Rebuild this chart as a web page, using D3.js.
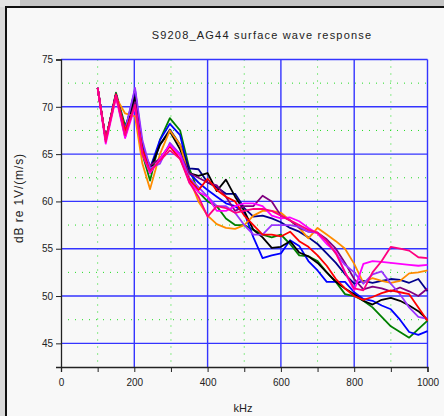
<!DOCTYPE html>
<html>
<head>
<meta charset="utf-8">
<title>surface wave response</title>
<script src="https://d3js.org/d3.v7.min.js"></script>
<style>
  body { margin: 0; background: #c4c4c4; }
  svg { display: block; }
</style>
</head>
<body>
<script>
// frequency points (kHz)
var freqs = [100,122,150,175,202,222,243,270,297,325,350,375,400,425,450,475,500,525,550,575,600,625,650,675,700,725,750,775,800,825,850,875,900,925,950,975,1000];

var xTicks = [0, 200, 400, 600, 800, 1000];
var xMinor = [100, 300, 500, 700, 900];
var yTicks = [45, 50, 55, 60, 65, 70, 75];
var yMinor = [47.5, 52.5, 57.5, 62.5, 67.5, 72.5];

// one array per sensor trace (dB re 1V/(m/s))
var green   = [72,66.5,71.5,68,70.5,65,62.2,66.5,68.8,67.5,63.5,61,60,59.5,58.2,57.5,57.5,57,56.5,56.2,56.5,55.5,54.3,54.2,53.7,52.5,51.5,50.2,50,49.5,48.8,47.8,46.8,46.2,45.6,46.5,47.4];
var blue    = [72,66.5,71.3,67.5,71.8,66,63.5,66.5,68.2,67,63,62,61.2,60.5,59.8,59.5,58.8,56.2,54,54.3,54.5,55.9,55.3,53.7,52.7,51.5,51.5,51.5,50.4,49.7,49.5,49,48.6,47.5,46.2,45.9,46.3];
var navy    = [72,66.5,71.3,67.5,71.5,65.5,63.5,66,67.6,66,63.5,63.4,62,61.5,60.8,60.8,59.3,58.4,58.5,58.2,57.8,57.2,56.8,56.2,55.5,54.5,53.5,52.3,51.3,51.6,51.4,51.6,51.8,51.7,51.4,51.8,50.5];
var black   = [72,66.5,71.3,67.5,71,65.5,63.2,66,67.4,65.5,63,62.7,63,61.1,62.3,60.5,59,57,56.2,55.1,55.2,55.8,54.6,54.2,53.5,52.5,51.5,50.8,50.2,49.5,49.1,49.6,49.8,49.5,49,48.4,47.5];
var orange  = [72,66.5,71,69.3,69,64,61.3,65,67.5,66,62.5,60,58.5,57.6,57.2,57.1,57.5,58.5,59,59,58.8,58,57.2,56.1,57.2,56.5,55.8,55,53.4,51.4,51.9,51.6,51.4,51.6,52.4,52.5,52.7];
var purple  = [72,66.5,71.3,66.8,70.5,65.5,63.8,64.5,66,65,63,62.5,62,61.7,60.5,59,59.5,59.5,60.6,60,58.5,58,57.2,56.8,56.7,56,55,53.5,51.8,50.7,51,50.8,50.5,50.9,50.5,50,50.8];
var violet  = [72,66.5,71.3,67.5,72,66.5,63.5,64,66.2,65,62.5,61.5,60.5,59.5,59.5,58.8,57.5,56.5,56.5,57.5,57.5,57.5,57.3,56.8,56.7,55.8,54.5,53.3,52.5,51.3,52.3,52.6,51.3,50.2,48.8,47.8,47.6];
var magenta = [72,66.1,71,66.7,70,65,63,64.5,66,64.8,62,61,60.5,59,59,59.5,59.8,59.8,59.5,58.5,58.2,58.3,57.9,57.2,56.6,55.5,54.7,52.5,50.6,53.4,53.7,53.6,53.5,53.4,53.3,53.2,53.3];
var pink    = [72,66.3,71.2,67,70.2,65,63.2,64.3,65.4,64.5,62,60.5,58.4,59.5,59.3,58.8,59,59.2,59.2,59,58.5,58,57.5,57,56.7,55.8,54.5,52.5,50.8,50.6,52.5,53.7,55.2,55,54.8,54.1,54];
var red     = [72,66.5,71.3,67.5,70,65.5,63,64.5,65.8,64.5,62.3,61.2,62.4,61.2,60.5,60,58.5,57.5,56.5,56.5,56.3,56.8,55.8,55.2,54.3,53.2,51.8,50.8,50,49.6,49.9,50.3,50.6,50.4,50.2,48.8,47.4];

var series = [
  {c: "#008000", v: green},
  {c: "#0000ff", v: blue},
  {c: "#00008b", v: navy},
  {c: "#000000", v: black},
  {c: "#ff8c00", v: orange},
  {c: "#800080", v: purple},
  {c: "#9933ff", v: violet},
  {c: "#ff0000", v: red},
  {c: "#ff00ff", v: magenta},
  {c: "#ff0080", v: pink}
];

var W = 444, H = 416;
var svg = d3.select("body").append("svg").attr("width", W).attr("height", H)
  .style("font-family", "Arial, 'Liberation Sans', sans-serif");

// window frame
svg.append("rect").attr("x", 0).attr("y", 0).attr("width", W).attr("height", H).attr("fill", "#c4c4c4");
svg.append("rect").attr("x", 0).attr("y", 0).attr("width", 20).attr("height", 7).attr("fill", "#e4e4e4");
svg.append("rect").attr("x", 0).attr("y", 7).attr("width", 5).attr("height", H).attr("fill", "#dadada");
svg.append("rect").attr("x", 7).attr("y", 7).attr("width", W - 7).attr("height", H - 7).attr("fill", "#f8f8f8");
svg.append("line").attr("x1", 6).attr("x2", W).attr("y1", 7).attr("y2", 7).attr("stroke", "#111").attr("stroke-width", 2);
svg.append("line").attr("x1", 6).attr("x2", 6).attr("y1", 6).attr("y2", H).attr("stroke", "#111").attr("stroke-width", 2);

var x = d3.scaleLinear().domain([0, 1000]).range([61, 427.5]);
var y = d3.scaleLinear().domain([42.5, 75]).range([367, 59.5]);

// minor green dotted grid
svg.append("g").selectAll("line").data(xMinor).enter().append("line")
  .attr("x1", d => x(d)).attr("x2", d => x(d)).attr("y1", y(75)).attr("y2", y(42.5))
  .attr("stroke", "#22dd22").attr("stroke-width", 1).attr("stroke-dasharray", "1,6");
svg.append("g").selectAll("line").data(yMinor).enter().append("line")
  .attr("x1", x(0)).attr("x2", x(1000)).attr("y1", d => y(d)).attr("y2", d => y(d))
  .attr("stroke", "#22dd22").attr("stroke-width", 1).attr("stroke-dasharray", "1,6");

// major blue grid
svg.append("g").selectAll("line").data(xTicks.slice(1)).enter().append("line")
  .attr("x1", d => x(d)).attr("x2", d => x(d)).attr("y1", y(75)).attr("y2", y(42.5))
  .attr("stroke", "#3434ff").attr("stroke-width", 1.4);
svg.append("g").selectAll("line").data(yTicks).enter().append("line")
  .attr("x1", x(0)).attr("x2", x(1000)).attr("y1", d => y(d)).attr("y2", d => y(d))
  .attr("stroke", "#3434ff").attr("stroke-width", 1.4);

// traces
var line = d3.line().x((d, i) => x(freqs[i])).y(d => y(d));
svg.append("g").selectAll("path").data(series).enter().append("path")
  .attr("d", d => line(d.v))
  .attr("fill", "none").attr("stroke", d => d.c).attr("stroke-width", 1.8)
  .attr("stroke-linejoin", "round");

// axes
var xAxis = d3.axisBottom(x).tickValues(d3.range(0, 1001, 100)).tickSize(5)
  .tickFormat(d => d % 200 === 0 ? d : "");
var gx = svg.append("g").attr("transform", "translate(0," + y(42.5) + ")").call(xAxis);
var yAxis = d3.axisLeft(y).tickValues(yTicks).tickSize(5);
var gy = svg.append("g").attr("transform", "translate(" + x(0) + ",0)").call(yAxis);
[gx, gy].forEach(function(g) {
  g.select(".domain").attr("stroke", "#222").attr("stroke-width", 1.3);
  g.selectAll(".tick line").attr("stroke", "#222");
  g.selectAll("text").attr("fill", "#222").style("font-size", "10px").style("font-family", "Arial, 'Liberation Sans', sans-serif");
});
gx.selectAll("text").attr("dy", "1.1em");

// titles
svg.append("text").attr("x", 262).attr("y", 39).attr("text-anchor", "middle")
  .style("font-size", "11px").style("letter-spacing", "1.2px").attr("fill", "#222")
  .text("S9208_AG44 surface wave response");
svg.append("text").attr("x", 243).attr("y", 412).attr("text-anchor", "middle")
  .style("font-size", "11px").attr("fill", "#222").text("kHz");
svg.append("text").attr("transform", "translate(23,198) rotate(-90)").attr("text-anchor", "middle")
  .style("font-size", "12px").style("letter-spacing", "0.9px").attr("fill", "#222").text("dB re 1V/(m/s)");
</script>
</body>
</html>
